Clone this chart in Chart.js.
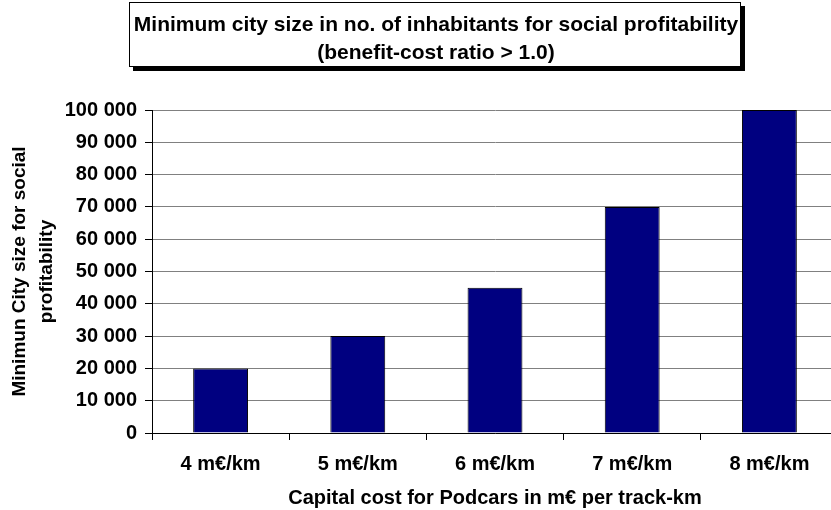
<!DOCTYPE html>
<html>
<head>
<meta charset="utf-8">
<script src="https://cdn.jsdelivr.net/npm/chart.js@4/dist/chart.umd.min.js"></script>
<style>
  html, body { margin: 0; padding: 0; background: #fff; overflow: hidden; }
  #wrap { width: 838px; height: 510px; }
</style>
</head>
<body>
<div id="wrap"><canvas id="chart" width="838" height="510"></canvas></div>
<script>
// Capital cost per track-km and the minimum city size that still gives a benefit-cost ratio above 1.0
const categories = ['4 m€/km', '5 m€/km', '6 m€/km', '7 m€/km', '8 m€/km'];
const minCitySize = [20000, 30000, 45000, 70000, 100000];
const titleLines = ['Minimum city size in no. of inhabitants for social profitability', '(benefit-cost ratio > 1.0)'];
const yTitleLines = ['Minimun City size for social', 'profitability'];
const xTitle = 'Capital cost for Podcars in m€ per track-km';

const FONT = '"Liberation Sans", Arial, Helvetica, sans-serif';

// Boxed chart title with a solid drop shadow
const boxedTitle = {
  id: 'boxedTitle',
  afterDraw(chart) {
    const ctx = chart.ctx;
    const x = 129.5, y = 2.5, w = 611, h = 64, off = 4;
    ctx.save();
    ctx.fillStyle = '#000';
    ctx.fillRect(x + off - 0.5, y + off - 0.5, w + 1, h + 1);
    ctx.fillStyle = '#fff';
    ctx.fillRect(x, y, w, h);
    ctx.strokeStyle = '#000';
    ctx.lineWidth = 1;
    ctx.strokeRect(x, y, w, h);
    ctx.fillStyle = '#000';
    ctx.font = 'bold 21px ' + FONT;
    ctx.textAlign = 'center';
    ctx.textBaseline = 'middle';
    const cx = x + w / 2 + 1;
    ctx.fillText(titleLines[0], cx, 25);
    ctx.fillText(titleLines[1], cx, 53);
    ctx.restore();
  }
};

const spaced = v => String(v).replace(/\B(?=(\d{3})+(?!\d))/g, ' ');

new Chart(document.getElementById('chart'), {
  type: 'bar',
  data: {
    labels: categories,
    datasets: [{
      data: minCitySize,
      backgroundColor: '#000080',
      borderColor: '#000000',
      borderWidth: 1,
      categoryPercentage: 1.0,
      barPercentage: 0.4
    }]
  },
  options: {
    responsive: false,
    animation: false,
    events: [],
    layout: { padding: { top: 110, left: 0, right: 0, bottom: 0 } },
    plugins: {
      legend: { display: false },
      title: { display: false },
      tooltip: { enabled: false }
    },
    scales: {
      x: {
        grid: {
          display: true,
          drawOnChartArea: false,
          drawTicks: true,
          tickLength: 7,
          tickColor: '#000',
          offset: true
        },
        border: { display: true, color: '#000', width: 1 },
        ticks: {
          color: '#000',
          padding: 12,
          maxRotation: 0,
          font: { family: FONT, size: 20, weight: 'bold' }
        },
        title: {
          display: true,
          text: xTitle,
          color: '#000',
          padding: { top: 0, bottom: 0 },
          font: { family: FONT, size: 20, weight: 'bold', lineHeight: 1.2 }
        },
        afterFit(scale) { scale.height = 77; }
      },
      y: {
        min: 0,
        max: 100000,
        grid: {
          color: '#808080',
          lineWidth: 1,
          drawTicks: true,
          tickLength: 7,
          tickColor: '#000'
        },
        border: { display: true, color: '#000', width: 1 },
        ticks: {
          stepSize: 10000,
          color: '#000',
          padding: 8,
          font: { family: FONT, size: 20, weight: 'bold' },
          callback: v => spaced(v)
        },
        title: {
          display: true,
          text: yTitleLines,
          color: '#000',
          padding: { top: 6.5, bottom: 0 },
          font: { family: FONT, size: 19, weight: 'bold', lineHeight: 27 / 19 }
        },
        afterFit(scale) { scale.width = 152; }
      }
    }
  },
  plugins: [boxedTitle]
});
</script>
</body>
</html>
